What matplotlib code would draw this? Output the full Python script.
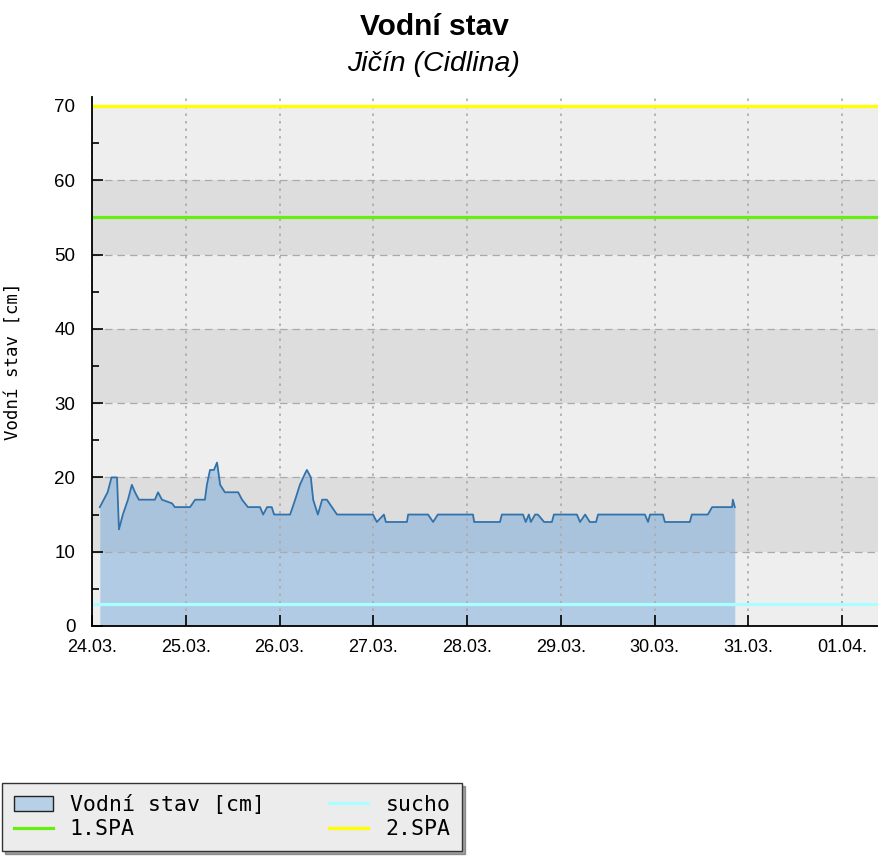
import matplotlib
matplotlib.use("Agg")
import matplotlib.pyplot as plt
from matplotlib.ticker import MultipleLocator

# === Data (hours since 24.03. 00:00, water level in cm) ===
hours = [2, 3, 4, 4.5, 5, 6.4, 6.9, 7.9, 9.2, 10.2, 11, 12, 16.1, 16.9, 17.9,
         20.5, 21.2, 25.1, 26.4, 28.9, 29.4, 30.2, 31.2, 32, 32.8, 34, 34.8,
         37.4, 38.4, 39.9, 43, 43.8, 44.8, 46, 46.6, 50.7, 52, 53.2, 54.5, 55,
         56, 56.6, 57.8, 58.9, 60.1, 61.4, 62.7, 71.9, 72.9, 74.7, 75.2, 80.6,
         80.9, 86, 87.3, 88.5, 97.5, 97.8, 104.4, 104.9, 110.3, 111, 111.8,
         112.3, 113.4, 114.1, 115.7, 117.7, 118.2, 124.1, 124.9, 126.2, 127.4,
         129, 129.5, 141.5, 142.3, 142.8, 146.1, 146.6, 153, 153.5, 157.6,
         158.7, 163.8, 164, 164.5]
level = [16, 17, 18, 19, 20, 20, 13, 15, 17, 19, 18, 17, 17, 18, 17,
         16.5, 16, 16, 17, 17, 19, 21, 21, 22, 19, 18, 18,
         18, 17, 16, 16, 15, 16, 16, 15, 15, 17, 19, 20.5, 21,
         20, 17, 15, 17, 17, 16, 15, 15, 14, 15, 14, 14,
         15, 15, 14, 15, 15, 14, 14, 15, 15, 14, 15,
         14, 15, 15, 14, 14, 15, 15, 14, 15, 14,
         14, 15, 15, 14, 15, 15, 14, 14, 15, 15,
         16, 16, 17, 16]

sucho = 3
spa1 = 55
spa2 = 70

day_labels = ["24.03.", "25.03.", "26.03.", "27.03.", "28.03.",
              "29.03.", "30.03.", "31.03.", "01.04."]

# === Figure ===
fig = plt.figure(figsize=(8.79, 8.56), dpi=100)
ax = fig.add_axes([92 / 879, 1 - 626 / 856, 1 - 92 / 879, (626 - 97) / 856])
ax.set_facecolor('white')

x_max = 201.4
y_max = 71.2

# alternating background bands (only up to 70)
for i, y0 in enumerate(range(0, 70, 10)):
    col = '#eeeeee' if i % 2 == 0 else '#dddddd'
    ax.axhspan(y0, y0 + 10, color=col, zorder=0, lw=0)

ax.fill_between(hours, 0, level, color=(120 / 255, 170 / 255, 220 / 255),
                alpha=0.5, lw=0, zorder=2, label='Vodní stav [cm]')
ax.plot(hours, level, color='#3272ab', lw=1.3, zorder=4)

ax.axhline(spa1, color='#66ee11', lw=2.3, zorder=3, label='1.SPA')
ax.axhline(sucho, color='#a8ffff', lw=2.3, zorder=3, label='sucho')
ax.axhline(spa2, color='#ffff00', lw=2.3, zorder=3, label='2.SPA')

ax.set_xlim(0, x_max)
ax.set_ylim(0, y_max)

ax.set_xticks([24 * i for i in range(len(day_labels))])
ax.set_xticklabels(day_labels, fontsize=13, family='Liberation Sans')
ax.yaxis.set_major_locator(MultipleLocator(10))
ax.yaxis.set_minor_locator(MultipleLocator(5))
for lab in ax.get_yticklabels():
    lab.set_family('Liberation Sans')
    lab.set_fontsize(13.5)
ax.tick_params(axis='both', which='major', direction='in', length=8, width=1.2,
               pad=9, color='black')
ax.tick_params(axis='y', which='minor', direction='in', length=5, width=1.2)
ax.tick_params(axis='y', which='major', pad=12)

ax.grid(axis='y', which='major', color='#aaaaaa', linestyle=(0, (6, 4)), lw=0.9, zorder=1)
ax.grid(axis='x', which='major', color='#aaaaaa', linestyle=(0, (1.5, 3)), lw=1.2, zorder=1)
ax.set_axisbelow(False)
for g in ax.get_xgridlines() + ax.get_ygridlines():
    g.set_zorder(1)

for s in ['top', 'right']:
    ax.spines[s].set_visible(False)
for s in ['left', 'bottom']:
    ax.spines[s].set_linewidth(1.3)
    ax.spines[s].set_zorder(6)

ax.set_ylabel('Vodní stav [cm]', family='DejaVu Sans Mono', fontsize=12.5)
ax.yaxis.set_label_coords(-(92 - 22) / 786, 0.5)

fig.text(434 / 879, 1 - 27 / 856, 'Vodní stav', ha='center', va='center',
         fontsize=21.5, fontweight='bold', family='Liberation Sans')
fig.text(434 / 879, 1 - 64 / 856, 'Jičín (Cidlina)', ha='center', va='center',
         fontsize=20.5, style='italic', family='Liberation Sans')

handles, labels = ax.get_legend_handles_labels()
order = ['Vodní stav [cm]', '1.SPA', 'sucho', '2.SPA']
hs = [handles[labels.index(o)] for o in order]
leg = fig.legend(hs, order, ncol=2, loc='lower left',
                 bbox_to_anchor=(2 / 879, 1 - 851 / 856),
                 prop={'family': 'DejaVu Sans Mono', 'size': 15.5},
                 frameon=True, fancybox=False, shadow=True,
                 edgecolor='#333333', facecolor='#ececec', framealpha=1,
                 columnspacing=3.0, handlelength=1.8, handletextpad=0.8,
                 borderpad=0.55, labelspacing=0.2, borderaxespad=0)
leg.get_frame().set_linewidth(1.0)
leg.legend_handles[0].set_edgecolor('#222222')
leg.legend_handles[0].set_linewidth(1.0)
leg.legend_handles[0].set_alpha(1)
leg.legend_handles[0].set_facecolor('#b8d0e6')

fig.savefig('out.png', dpi=100)
